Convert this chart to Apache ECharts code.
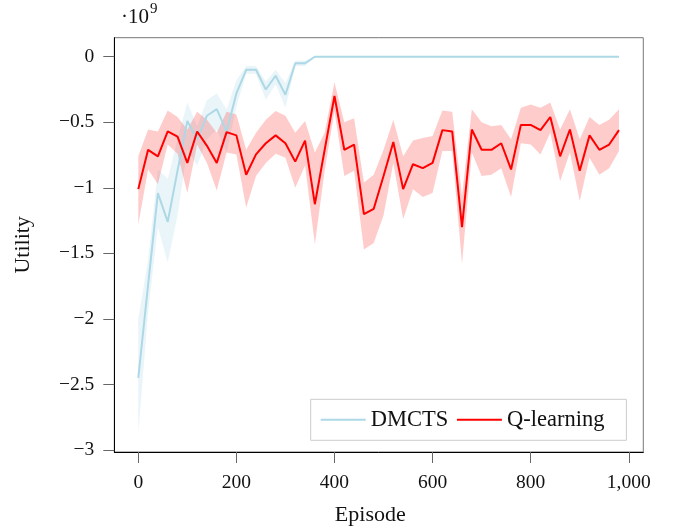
<!DOCTYPE html>
<html>
<head>
<meta charset="utf-8">
<script src="https://cdn.jsdelivr.net/npm/echarts@6/dist/echarts.min.js"></script>
<style>html,body{margin:0;padding:0;background:#fff;}#chart{width:673px;height:531px;}</style>
</head>
<body>
<div id="chart"></div>
<script>
// Episodes (x values)
var episodes = [0,20,40,60,80,100,120,140,160,180,200,220,240,260,280,300,320,340,360,380,400,420,440,460,480,500,520,540,560,580,600,620,640,660,680,700,720,740,760,780,800,820,840,860,880,900,920,940,960,980];

// DMCTS (units of 1e9)
var dmctsMean  = [-2.45,-1.74,-1.04,-1.26,-0.87,-0.49,-0.63,-0.45,-0.40,-0.57,-0.28,-0.10,-0.10,-0.25,-0.145,-0.29,-0.05,-0.05,0,0,0,0,0,0,0,0,0,0,0,0,0,0,0,0,0,0,0,0,0,0,0,0,0,0,0,0,0,0,0,0];
var dmctsUpper = [-2.00,-1.55,-0.86,-0.93,-0.63,-0.35,-0.53,-0.33,-0.28,-0.40,-0.18,-0.07,-0.07,-0.19,-0.10,-0.20,-0.03,-0.03,0,0,0,0,0,0,0,0,0,0,0,0,0,0,0,0,0,0,0,0,0,0,0,0,0,0,0,0,0,0,0,0];
var dmctsLower = [-2.87,-1.95,-1.30,-1.57,-1.21,-0.71,-0.83,-0.63,-0.555,-0.73,-0.38,-0.13,-0.13,-0.33,-0.21,-0.39,-0.07,-0.07,0,0,0,0,0,0,0,0,0,0,0,0,0,0,0,0,0,0,0,0,0,0,0,0,0,0,0,0,0,0,0,0];

// Q-learning (units of 1e9)
var qMean  = [-1.01,-0.71,-0.76,-0.57,-0.61,-0.81,-0.57,-0.68,-0.81,-0.575,-0.60,-0.90,-0.745,-0.66,-0.60,-0.66,-0.80,-0.64,-1.125,-0.71,-0.30,-0.71,-0.67,-1.20,-1.16,-0.91,-0.65,-1.01,-0.82,-0.85,-0.81,-0.56,-0.57,-1.30,-0.555,-0.71,-0.71,-0.66,-0.86,-0.52,-0.52,-0.56,-0.46,-0.76,-0.555,-0.87,-0.60,-0.71,-0.67,-0.56];
var qUpper = [-0.76,-0.555,-0.57,-0.41,-0.46,-0.555,-0.42,-0.48,-0.58,-0.42,-0.44,-0.71,-0.58,-0.48,-0.415,-0.45,-0.58,-0.49,-0.73,-0.58,-0.195,-0.50,-0.47,-0.96,-0.90,-0.71,-0.48,-0.76,-0.64,-0.62,-0.605,-0.41,-0.42,-1.06,-0.40,-0.50,-0.53,-0.52,-0.63,-0.39,-0.365,-0.39,-0.35,-0.555,-0.40,-0.63,-0.46,-0.52,-0.48,-0.40];
var qLower = [-1.28,-0.86,-0.97,-0.67,-0.74,-1.04,-0.67,-0.81,-1.02,-0.73,-0.745,-1.15,-0.91,-0.81,-0.74,-0.77,-1.00,-0.83,-1.43,-0.87,-0.415,-0.91,-0.87,-1.47,-1.42,-1.21,-0.81,-1.24,-1.01,-1.07,-1.04,-0.72,-0.72,-1.58,-0.73,-0.91,-0.90,-0.85,-1.07,-0.66,-0.67,-0.745,-0.58,-0.95,-0.73,-1.10,-0.77,-0.90,-0.85,-0.72];

// Tick values
var xTicks = [0,200,400,600,800,1000];
var yTicks = [0,-0.5,-1,-1.5,-2,-2.5,-3];

var FONT = 'Liberation Serif';

function pairs(xs, ys){ return xs.map(function(x,i){ return [x, ys[i]]; }); }

function bandSeries(upper, lower, fill){
  return {
    type: 'custom',
    silent: true,
    data: [[0,0]],
    renderItem: function(params, api){
      var pts = [];
      for (var i = 0; i < episodes.length; i++) pts.push(api.coord([episodes[i], upper[i]]));
      for (var j = episodes.length - 1; j >= 0; j--) pts.push(api.coord([episodes[j], lower[j]]));
      return { type: 'polygon', shape: { points: pts }, style: { fill: fill } };
    }
  };
}

var chart = echarts.init(document.getElementById('chart'), null, {renderer: 'canvas'});
chart.setOption({
  animation: false,
  backgroundColor: '#fff',
  textStyle: { fontFamily: FONT },
  grid: { left: 114.3, right: 29.7, top: 37.7, bottom: 78.3, show: true, borderColor: '#777', borderWidth: 1, containLabel: false },
  xAxis: {
    type: 'value', min: -48.9, max: 1029.6,
    name: 'Episode', nameLocation: 'middle', nameGap: 52,
    nameTextStyle: { fontFamily: FONT, fontSize: 22, color: '#111', padding: [0, 17, 0, 0] },
    axisLine: { show: true, onZero: false, lineStyle: { color: '#000', width: 1 } },
    axisTick: { show: true, inside: false, length: 11, customValues: xTicks, lineStyle: { color: '#666', width: 1 } },
    axisLabel: { customValues: xTicks, margin: 21, fontFamily: FONT, fontSize: 19.5, color: '#111',
      formatter: function(v){ return v === 1000 ? '1,000' : String(v); } },
    splitLine: { show: false }
  },
  yAxis: {
    type: 'value', min: -3.015, max: 0.145,
    name: 'Utility', nameLocation: 'middle', nameGap: 80, nameRotate: 90,
    nameTextStyle: { fontFamily: FONT, fontSize: 22, color: '#111' },
    axisLine: { show: true, onZero: false, lineStyle: { color: '#000', width: 1 } },
    axisTick: { show: true, inside: false, length: 11, customValues: yTicks, lineStyle: { color: '#666', width: 1 } },
    axisLabel: { customValues: yTicks, margin: 20, fontFamily: FONT, fontSize: 19.5, color: '#111',
      formatter: function(v){ return v === 0 ? '0' : (v < 0 ? '\u2212' + String(Math.abs(v)) : String(v)); } },
    splitLine: { show: false }
  },
  legend: {
    data: ['DMCTS', 'Q-learning'],
    left: 310.7, top: 399.3,
    orient: 'horizontal',
    backgroundColor: '#fff',
    borderColor: '#ccc', borderWidth: 1, borderRadius: 0,
    padding: [9, 22, 9, 10],
    itemGap: 8.7, itemWidth: 45, itemHeight: 2,
    icon: 'rect',
    textStyle: { fontFamily: FONT, fontSize: 22.5, color: '#111' }
  },
  graphic: [
    { type: 'text', left: 121, top: 7, style: { text: '\u00b710', font: '21px "Liberation Serif"', fill: '#111' } },
    { type: 'text', left: 150, top: 2, style: { text: '9', font: '15px "Liberation Serif"', fill: '#111' } }
  ],
  series: [
    bandSeries(dmctsUpper, dmctsLower, 'rgba(173,216,230,0.25)'),
    { name: 'DMCTS', type: 'line', data: pairs(episodes, dmctsMean), showSymbol: false, symbol: 'none',
      lineStyle: { color: '#ADD8E6', width: 2 }, itemStyle: { color: '#ADD8E6' } },
    bandSeries(qUpper, qLower, 'rgba(255,0,0,0.2)'),
    { name: 'Q-learning', type: 'line', data: pairs(episodes, qMean), showSymbol: false, symbol: 'none',
      lineStyle: { color: '#FF0000', width: 2 }, itemStyle: { color: '#FF0000' } }
  ]
});
</script>
</body>
</html>
